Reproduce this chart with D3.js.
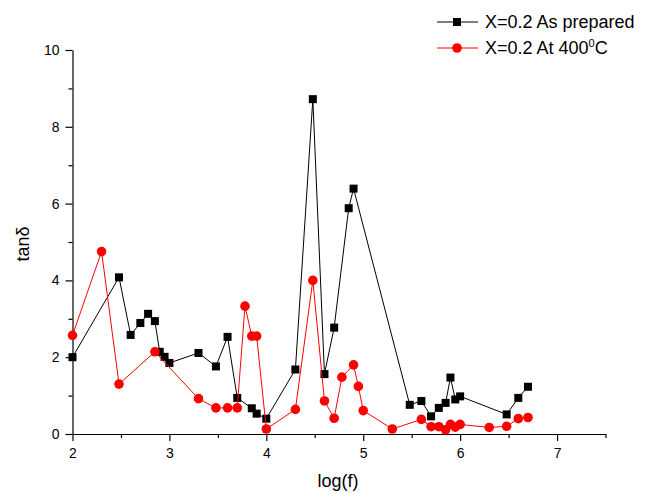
<!DOCTYPE html>
<html>
<head>
<meta charset="utf-8">
<script src="https://cdn.jsdelivr.net/npm/d3@7"></script>
<style>
    body { margin: 0; background: #fff; }
    svg { display: block; font-family: "Liberation Sans", Arial, sans-serif; }
</style>
</head>
<body>
<div id="chart"></div>
<script>
// log(f) values and tan(delta)
const preparedX = [2, 2.48, 2.6, 2.7, 2.78, 2.85, 2.9, 2.95, 3, 3.3, 3.48, 3.6, 3.7, 3.85, 3.9, 4,
    4.3, 4.48, 4.6, 4.7, 4.85, 4.9, 5.48, 5.6, 5.7, 5.78, 5.85, 5.9, 5.95, 6, 6.48, 6.6, 6.7];
const preparedY = [2.0, 4.08, 2.58, 2.89, 3.13, 2.94, 2.14, 2.01, 1.85, 2.11, 1.76, 2.53, 0.94, 0.67, 0.53, 0.40,
    1.68, 8.72, 1.56, 2.77, 5.88, 6.39, 0.76, 0.86, 0.46, 0.68, 0.81, 1.47, 0.90, 0.98, 0.51, 0.94, 1.23];

const heatedX = [2, 2.3, 2.48, 2.85, 3.3, 3.48, 3.6, 3.7, 3.78, 3.85, 3.9, 4, 4.3, 4.48, 4.6, 4.7,
    4.78, 4.9, 4.95, 5, 5.3, 5.6, 5.7, 5.78, 5.85, 5.9, 5.95, 6, 6.3, 6.48, 6.6, 6.7];
const heatedY = [2.57, 4.75, 1.30, 2.14, 0.92, 0.68, 0.68, 0.68, 3.33, 2.55, 2.55, 0.13, 0.64, 4.00, 0.86, 0.41,
    1.48, 1.80, 1.24, 0.61, 0.13, 0.38, 0.19, 0.19, 0.11, 0.25, 0.18, 0.25, 0.17, 0.20, 0.40, 0.43];

const xMajor = [2, 3, 4, 5, 6, 7];
const xMinor = [2.5, 3.5, 4.5, 5.5, 6.5, 7.5];
const yMajor = [0, 2, 4, 6, 8, 10];
const yMinor = [1, 3, 5, 7, 9];

const width = 657, height = 493;

const svg = d3.select("#chart").append("svg")
    .attr("width", width)
    .attr("height", height);

const x = d3.scaleLinear().domain([2, 7.5]).range([72.5, 605.5]);
const y = d3.scaleLinear().domain([0, 10]).range([434, 50]);

// Axes
const xAxis = svg.append("g")
    .attr("transform", `translate(0,${y(0)})`)
    .call(d3.axisBottom(x).tickValues(xMajor).tickFormat(d3.format("d"))
        .tickSize(7).tickPadding(7).tickSizeOuter(0));

svg.append("g")
    .attr("transform", `translate(0,${y(0)})`)
    .call(d3.axisBottom(x).tickValues(xMinor).tickFormat("").tickSize(4).tickSizeOuter(0))
    .select(".domain").remove();

const yAxis = svg.append("g")
    .attr("transform", `translate(${x(2)},0)`)
    .call(d3.axisLeft(y).tickValues(yMajor).tickFormat(d3.format("d"))
        .tickSize(7).tickPadding(6).tickSizeOuter(0));

svg.append("g")
    .attr("transform", `translate(${x(2)},0)`)
    .call(d3.axisLeft(y).tickValues(yMinor).tickFormat("").tickSize(4).tickSizeOuter(0))
    .select(".domain").remove();

svg.selectAll(".tick text")
    .attr("fill", "#000")
    .style("font-size", "14px")
    .style("font-family", "'Liberation Sans', Arial, sans-serif");
svg.selectAll(".domain, .tick line").attr("stroke", "#000").attr("stroke-width", 1.2);

// Axis titles
svg.append("text")
    .attr("x", 338)
    .attr("y", 487)
    .attr("text-anchor", "middle")
    .style("font-size", "18px")
    .text("log(f)");

svg.append("text")
    .attr("transform", "translate(29,244) rotate(-90)")
    .attr("text-anchor", "middle")
    .style("font-size", "18px")
    .text("tanδ");

// Series
const series = [
    { xs: preparedX, ys: preparedY, color: "#000", shape: "square" },
    { xs: heatedX, ys: heatedY, color: "#ff0000", shape: "circle" }
];

const line = d3.line().x(d => x(d[0])).y(d => y(d[1]));

series.forEach(s => {
    const pts = s.xs.map((v, i) => [v, s.ys[i]]);
    const g = svg.append("g");
    g.append("path")
        .datum(pts)
        .attr("d", line)
        .attr("fill", "none")
        .attr("stroke", s.color)
        .attr("stroke-width", 1);
    if (s.shape === "square") {
        g.selectAll("rect")
            .data(pts)
            .join("rect")
            .attr("x", d => x(d[0]) - 4)
            .attr("y", d => y(d[1]) - 4)
            .attr("width", 8)
            .attr("height", 8)
            .attr("fill", s.color);
    } else {
        g.selectAll("circle")
            .data(pts)
            .join("circle")
            .attr("cx", d => x(d[0]))
            .attr("cy", d => y(d[1]))
            .attr("r", 4.8)
            .attr("fill", s.color);
    }
});

// Legend
const legend = svg.append("g");

const row1 = legend.append("g").attr("transform", "translate(0,22)");
row1.append("line").attr("x1", 437).attr("x2", 478).attr("stroke", "#000").attr("stroke-width", 1);
row1.append("rect").attr("x", 453).attr("y", -4).attr("width", 8).attr("height", 8).attr("fill", "#000");
row1.append("text").attr("x", 485).attr("y", 6).style("font-size", "18px").text("X=0.2 As prepared");

const row2 = legend.append("g").attr("transform", "translate(0,48)");
row2.append("line").attr("x1", 437).attr("x2", 478).attr("stroke", "#ff0000").attr("stroke-width", 1);
row2.append("circle").attr("cx", 457).attr("r", 4.8).attr("fill", "#ff0000");
const t2 = row2.append("text").attr("x", 485).attr("y", 6).style("font-size", "18px");
t2.append("tspan").text("X=0.2 At 400");
t2.append("tspan").attr("dy", -7).style("font-size", "11px").text("0");
t2.append("tspan").attr("dy", 7).text("C");
</script>
</body>
</html>
